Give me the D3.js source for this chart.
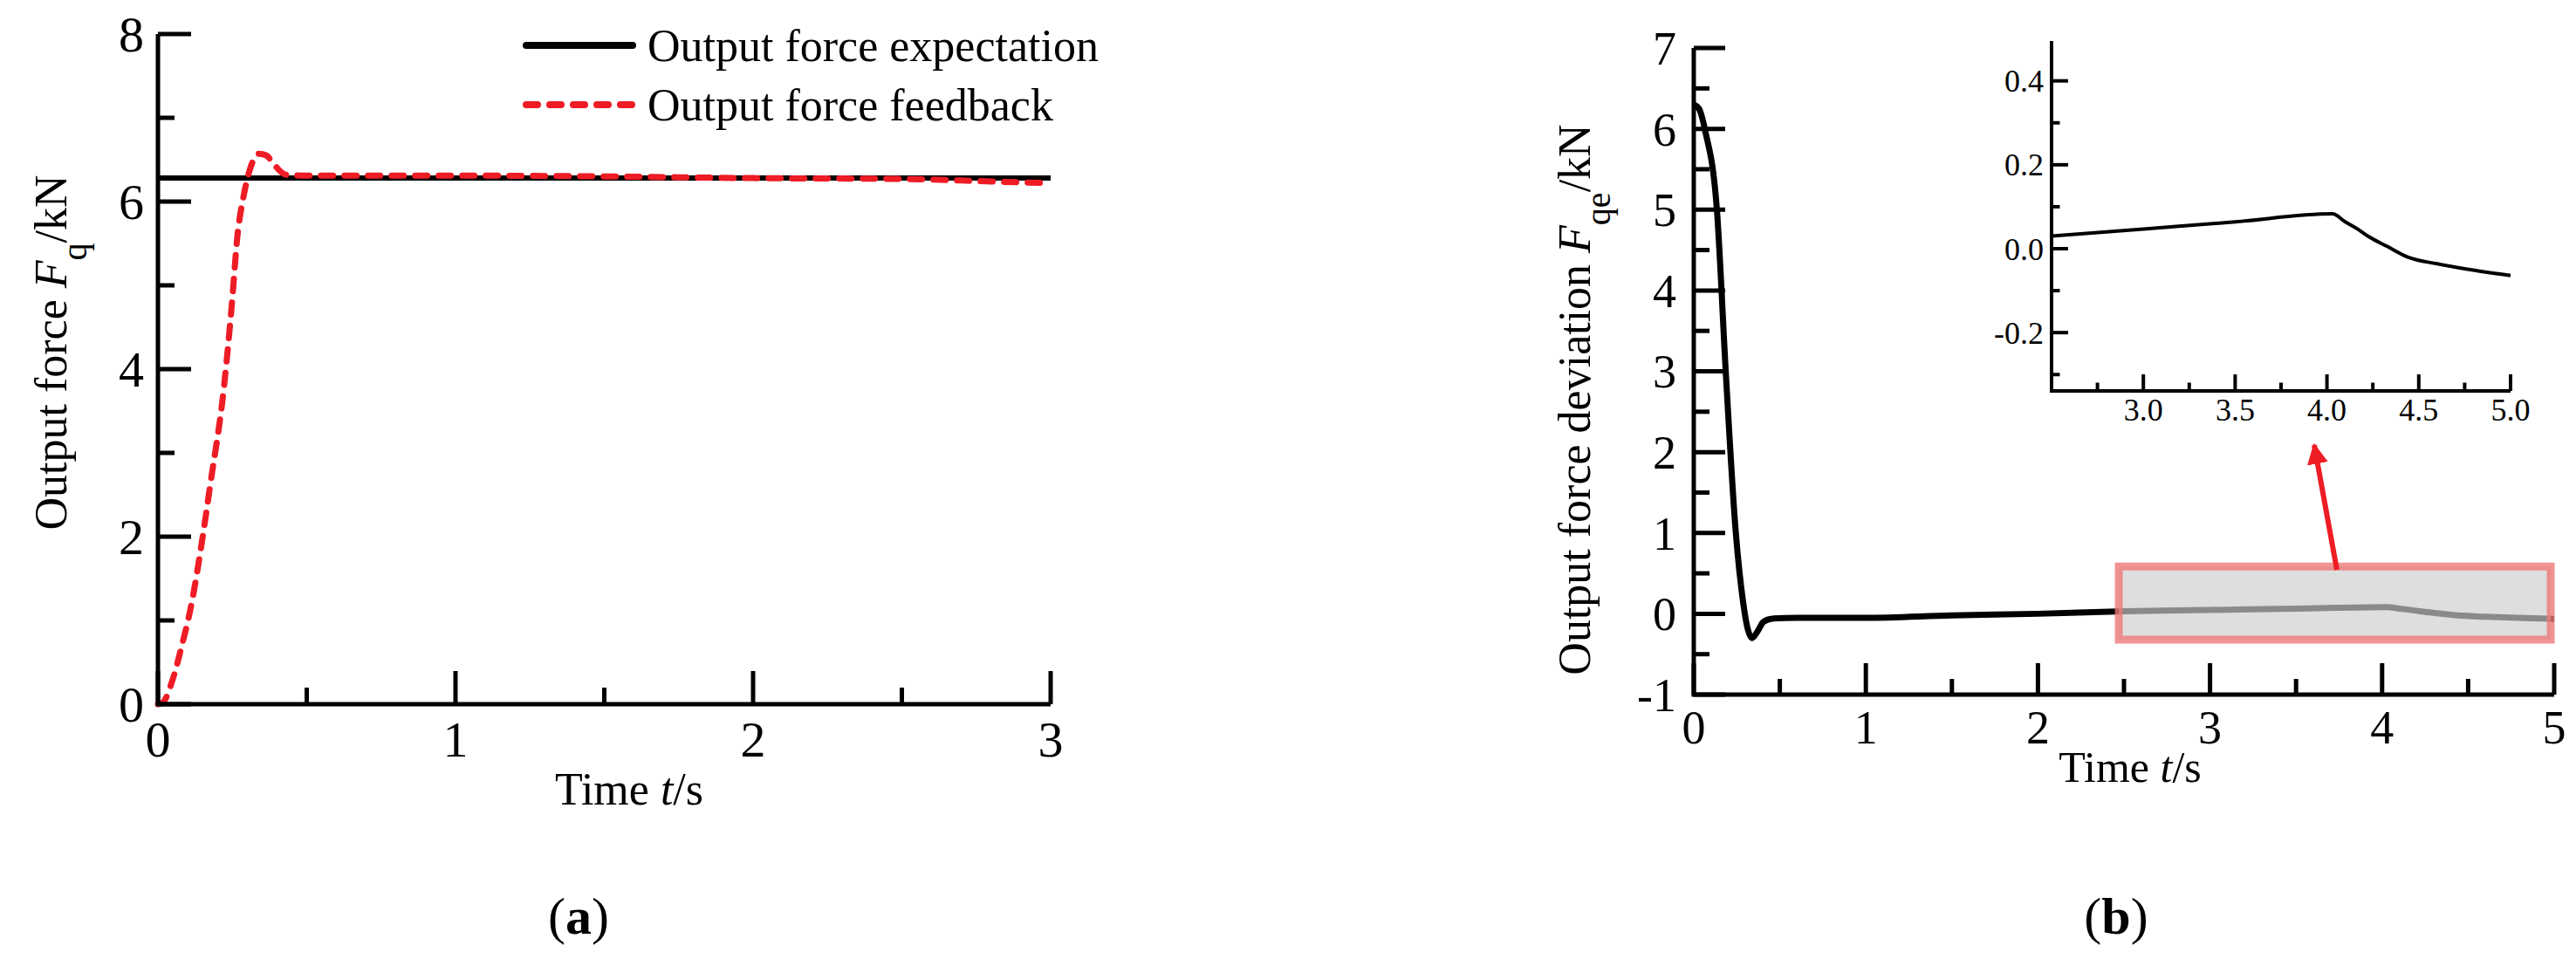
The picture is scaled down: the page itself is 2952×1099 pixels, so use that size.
<!DOCTYPE html>
<html><head><meta charset="utf-8">
<script src="https://cdn.jsdelivr.net/npm/d3@7"></script>
<style>body{margin:0;background:#fff}svg{display:block}svg text{font-family:"Liberation Serif","Times New Roman",serif;fill:#000}</style>
</head><body>
<script>
// ---- Data (a) ----
const expectT = [0, 3];
const expectF = [6.28, 6.28];
const fbT = [0, 0.016, 0.05, 0.076, 0.114, 0.15, 0.175, 0.222, 0.248, 0.268, 0.287, 0.307, 0.34, 0.365, 0.386, 0.431, 0.5, 1.0, 1.5, 2.0, 2.5, 2.8, 3.0];
const fbF = [0, 0.02, 0.3, 0.64, 1.22, 1.99, 2.6, 3.79, 4.76, 5.62, 6.05, 6.36, 6.57, 6.55, 6.46, 6.32, 6.31, 6.31, 6.30, 6.28, 6.27, 6.24, 6.22];
const aXTicks = [0, 1, 2, 3];
const aYTicks = [0, 2, 4, 6, 8];
// ---- Data (b) ----
const devT = [0, 0.03, 0.067, 0.135, 0.186, 0.244, 0.287, 0.315, 0.338, 0.37, 0.405, 0.456, 0.6, 1.0, 1.5, 2.0, 2.5, 3.0, 3.5, 4.03, 4.1, 4.17, 4.23, 4.33, 4.44, 4.6, 4.75, 5.0];
const devF = [6.3, 6.25, 5.97, 4.98, 2.99, 1.01, 0.14, -0.2, -0.3, -0.22, -0.1, -0.06, -0.05, -0.05, -0.02, 0.0, 0.03, 0.047, 0.064, 0.083, 0.064, 0.046, 0.028, 0.005, -0.02, -0.036, -0.048, -0.064];
const bXTicks = [0, 1, 2, 3, 4, 5];
const bYTicks = [-1, 0, 1, 2, 3, 4, 5, 6, 7];
const insetXTicks = [3.0, 3.5, 4.0, 4.5, 5.0];
const insetYTicks = [-0.2, 0.0, 0.2, 0.4];
const legendLabels = ["Output force expectation", "Output force feedback"];

const W = 2952, H = 1099;
const svg = d3.select("body").append("svg").attr("width", W).attr("height", H);
const SERIF = "Liberation Serif";

function axes(g, x, y, o) {
  const [x0, x1] = x.range(), [y0, y1] = y.range();
  const xd = x.domain(), yd = y.domain();
  for (let v = o.xMinorStart; v <= xd[1] + 1e-9; v += o.xMinor) {
    const major = Math.abs(v / o.xMajor - Math.round(v / o.xMajor)) < 1e-6;
    g.append("line").attr("x1", x(v)).attr("x2", x(v)).attr("y1", y0).attr("y2", y0 - (major ? o.tl : o.tl / 2))
      .attr("stroke", "#000").attr("stroke-width", o.tw);
  }
  for (let v = o.yMinorStart; v <= yd[1] + 1e-9; v += o.yMinor) {
    const major = Math.abs(v / o.yMajor - Math.round(v / o.yMajor)) < 1e-6;
    g.append("line").attr("y1", y(v)).attr("y2", y(v)).attr("x1", x0).attr("x2", x0 + (major ? o.tl : o.tl / 2))
      .attr("stroke", "#000").attr("stroke-width", o.tw);
  }
  g.append("path").attr("d", `M${x0},${y1}V${y0}H${x1}`).attr("fill", "none").attr("stroke", "#000").attr("stroke-width", o.aw);
  const f = o.fmt || (v => String(v));
  o.xTicks.forEach(v => g.append("text").attr("x", x(v)).attr("y", o.xLabY).attr("text-anchor", "middle")
    .attr("font-family", SERIF).attr("font-size", o.fs).text(f(v)));
  o.yTicks.forEach(v => g.append("text").attr("x", x0 - o.yGap).attr("y", y(v)).attr("dy", "0.35em").attr("text-anchor", "end")
    .attr("font-family", SERIF).attr("font-size", o.fs).text(f(v)));
}

// ===== Panel (a) =====
const ax = d3.scaleLinear().domain([0, 3]).range([181, 1204]);
const ay = d3.scaleLinear().domain([0, 8]).range([807, 39]);
const ga = svg.append("g");
const lineA = d3.line().x(d => ax(d[0])).y(d => ay(d[1])).curve(d3.curveMonotoneX);
ga.append("path").attr("d", lineA(expectT.map((t, i) => [t, expectF[i]]))).attr("fill", "none").attr("stroke", "#000").attr("stroke-width", 6);
ga.append("path").attr("d", lineA(fbT.map((t, i) => [t, fbF[i]]))).attr("fill", "none").attr("stroke", "#ee1c25")
  .attr("stroke-width", 7).attr("stroke-dasharray", "14,13").attr("stroke-linecap", "round");
axes(ga, ax, ay, { xMinor: 0.5, xMajor: 1, xMinorStart: 0, yMinor: 1, yMajor: 2, yMinorStart: 0, tl: 38, tw: 5, aw: 5,
  xTicks: aXTicks, yTicks: aYTicks, xLabY: 867, yGap: 16, fs: 58 });
legendLabels.forEach((lab, i) => {
  const yy = 52 + i * 68;
  ga.append("line").attr("x1", 603).attr("x2", 725).attr("y1", yy).attr("y2", yy)
    .attr("stroke", i ? "#ee1c25" : "#000").attr("stroke-width", 8).attr("stroke-linecap", "round")
    .attr("stroke-dasharray", i ? "13,14" : null);
  ga.append("text").attr("x", 742).attr("y", yy).attr("dy", "0.35em").attr("font-size", 52).text(lab);
});
ga.append("text").attr("x", 721).attr("y", 922).attr("text-anchor", "middle").attr("font-size", 52)
  .html('Time <tspan font-style="italic">t</tspan>/s');
ga.append("text").attr("transform", "translate(76,404) rotate(-90)").attr("text-anchor", "middle").attr("font-size", 52)
  .html('Output force <tspan font-style="italic">F</tspan><tspan baseline-shift="sub" font-size="40">q</tspan>/kN');
ga.append("text").attr("x", 663).attr("y", 1070).attr("text-anchor", "middle").attr("font-size", 60)
  .html('(<tspan font-weight="bold">a</tspan>)');

// ===== Panel (b) =====
const bx = d3.scaleLinear().domain([0, 5]).range([1941, 2927]);
const by = d3.scaleLinear().domain([-1, 7]).range([796, 55]);
const gb = svg.append("g");
const lineB = d3.line().x(d => bx(d[0])).y(d => by(d[1])).curve(d3.curveMonotoneX);
const devData = devT.map((t, i) => [t, devF[i]]);
const bx0 = 2.47, bx1 = 4.98, by0 = -0.32, by1 = 0.585;
gb.append("rect").attr("x", bx(bx0)).attr("y", by(by1)).attr("width", bx(bx1) - bx(bx0)).attr("height", by(by0) - by(by1)).attr("fill", "#dedede");
gb.append("path").attr("d", lineB(devData)).attr("fill", "none").attr("stroke", "#000").attr("stroke-width", 7);
gb.append("rect").attr("x", bx(bx0)).attr("y", by(by1)).attr("width", bx(bx1) - bx(bx0)).attr("height", by(by0) - by(by1))
  .attr("fill", "rgba(222,222,222,0.62)").attr("stroke", "rgba(238,120,120,0.8)").attr("stroke-width", 9);
axes(gb, bx, by, { xMinor: 0.5, xMajor: 1, xMinorStart: 0, yMinor: 0.5, yMajor: 1, yMinorStart: -1, tl: 36, tw: 5, aw: 5,
  xTicks: bXTicks, yTicks: bYTicks, xLabY: 852, yGap: 20, fs: 54 });
gb.append("text").attr("x", 2441).attr("y", 896).attr("text-anchor", "middle").attr("font-size", 50)
  .html('Time <tspan font-style="italic">t</tspan>/s');
gb.append("text").attr("transform", "translate(1822,458) rotate(-90)").attr("text-anchor", "middle").attr("font-size", 52)
  .html('Output force deviation <tspan font-style="italic">F</tspan><tspan baseline-shift="sub" font-size="40">qe</tspan>/kN');
gb.append("text").attr("x", 2425).attr("y", 1070).attr("text-anchor", "middle").attr("font-size", 60)
  .html('(<tspan font-weight="bold">b</tspan>)');
svg.append("defs").append("marker").attr("id", "ah").attr("viewBox", "0 0 10 10").attr("refX", 9).attr("refY", 5)
  .attr("markerWidth", 4).attr("markerHeight", 5).attr("orient", "auto")
  .append("path").attr("d", "M0,0L10,5L0,10z").attr("fill", "#ee1c25");
gb.append("line").attr("x1", 2678).attr("y1", 653).attr("x2", 2652).attr("y2", 510).attr("stroke", "#ee1c25")
  .attr("stroke-width", 6).attr("marker-end", "url(#ah)");

// ===== Inset =====
const ix = d3.scaleLinear().domain([2.5, 5.0]).range([2351, 2877]);
const iy = d3.scaleLinear().domain([-0.339, 0.495]).range([448, 47]);
const gi = svg.append("g");
const insetData = devData.filter(d => d[0] >= 2.5);
gi.append("path").attr("d", d3.line().x(d => ix(d[0])).y(d => iy(d[1])).curve(d3.curveMonotoneX)(insetData))
  .attr("fill", "none").attr("stroke", "#000").attr("stroke-width", 4);
axes(gi, ix, iy, { xMinor: 0.25, xMajor: 0.5, xMinorStart: 2.75, yMinor: 0.1, yMajor: 0.2, yMinorStart: -0.3, tl: 19, tw: 4, aw: 4,
  xTicks: insetXTicks, yTicks: insetYTicks, xLabY: 482, yGap: 9, fs: 36, fmt: v => v.toFixed(1) });
</script>
</body></html>
